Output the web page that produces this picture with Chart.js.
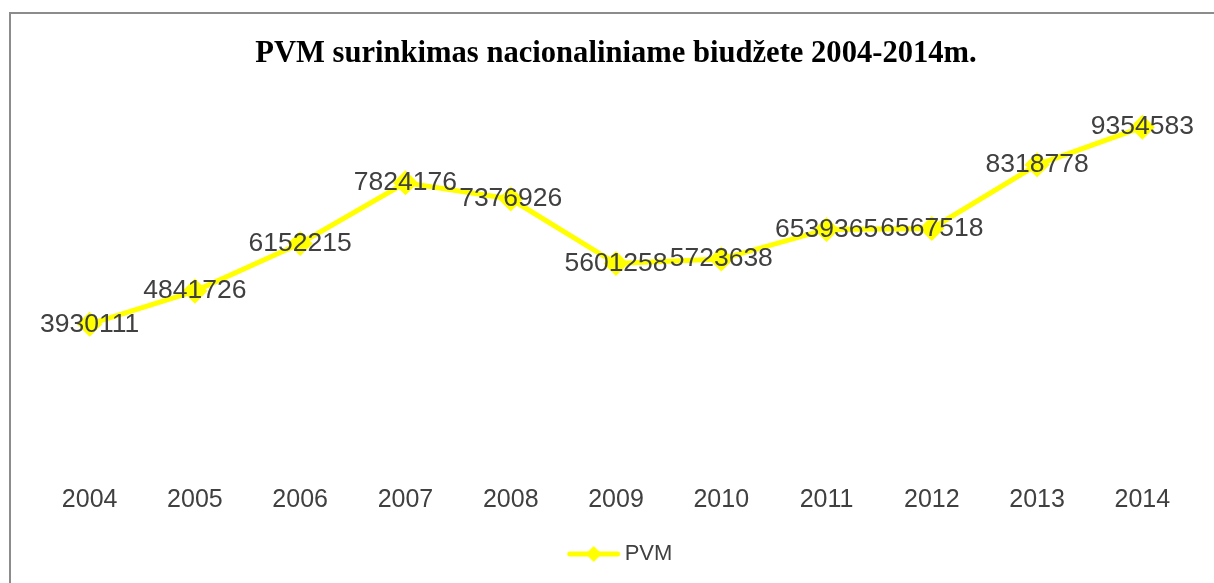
<!DOCTYPE html>
<html>
<head>
<meta charset="utf-8">
<script src="https://cdn.jsdelivr.net/npm/chart.js@4.4.1/dist/chart.umd.min.js"></script>
<style>
  body { margin: 0; background: #fff; }
  #wrap { position: relative; width: 1214px; height: 583px; }
  #frame { position: absolute; left: 9px; top: 12px; width: 1220px; height: 590px;
           border: 2px solid #8c8c8c; pointer-events: none; }
</style>
</head>
<body>
<div id="wrap">
  <canvas id="chart" width="1214" height="583"></canvas>
  <div id="frame"></div>
</div>
<script>
const years = ['2004', '2005', '2006', '2007', '2008', '2009', '2010', '2011', '2012', '2013', '2014'];
const pvm = [3930111, 4841726, 6152215, 7824176, 7376926, 5601258, 5723638, 6539365, 6567518, 8318778, 9354583];
const seriesName = 'PVM';
const chartTitle = 'PVM surinkimas nacionaliniame biudžete 2004-2014m.';

const yellow = '#ffff00';
const textColor = '#404040';

// legend marker: line with a diamond in the middle (drawn a bit to the right, closer to the text)
const legendIcon = document.createElement('canvas');
legendIcon.width = 70;
legendIcon.height = 20;
const lctx = legendIcon.getContext('2d');
lctx.strokeStyle = yellow;
lctx.lineWidth = 5;
lctx.lineCap = 'round';
lctx.beginPath();
lctx.moveTo(18, 10);
lctx.lineTo(66, 10);
lctx.stroke();
lctx.fillStyle = yellow;
lctx.beginPath();
lctx.moveTo(42, 2);
lctx.lineTo(50, 10);
lctx.lineTo(42, 18);
lctx.lineTo(34, 10);
lctx.closePath();
lctx.fill();

const valueLabels = {
    id: 'valueLabels',
    afterDatasetsDraw(chart) {
        const ctx = chart.ctx;
        const meta = chart.getDatasetMeta(0);
        ctx.save();
        ctx.font = '26.5px "Liberation Sans"';
        ctx.fillStyle = textColor;
        ctx.textAlign = 'center';
        ctx.textBaseline = 'middle';
        meta.data.forEach((pt, i) => {
            ctx.fillText(String(pvm[i]), pt.x, pt.y);
        });
        ctx.restore();
    }
};

new Chart(document.getElementById('chart').getContext('2d'), {
    type: 'line',
    data: {
        labels: years,
        datasets: [{
            label: seriesName,
            data: pvm,
            borderColor: yellow,
            backgroundColor: yellow,
            borderWidth: 5,
            pointStyle: 'rectRot',
            pointRadius: 9,
            pointBackgroundColor: yellow,
            pointBorderColor: yellow,
            tension: 0
        }]
    },
    options: {
        responsive: false,
        animation: false,
        layout: { padding: { left: 37, right: 19, top: 0, bottom: 8 } },
        plugins: {
            title: {
                display: true,
                text: chartTitle,
                color: '#000',
                font: { family: '"Liberation Serif"', size: 30.6, weight: 'bold' },
                padding: { top: 36, bottom: 31 }
            },
            legend: {
                position: 'bottom',
                labels: {
                    usePointStyle: true,
                    pointStyle: legendIcon,
                    pointStyleWidth: 54,
                    color: textColor,
                    font: { family: '"Liberation Sans"', size: 22 },
                    generateLabels: () => [{
                        text: seriesName,
                        pointStyle: legendIcon,
                        fontColor: textColor,
                        lineWidth: 0,
                        datasetIndex: 0
                    }]
                }
            },
            tooltip: { enabled: false }
        },
        scales: {
            x: {
                offset: true,
                grid: { display: false, drawTicks: false },
                border: { display: false },
                ticks: { color: textColor, padding: 18, font: { family: '"Liberation Sans"', size: 25 } }
            },
            y: {
                display: false,
                min: 0,
                max: 10000000
            }
        }
    },
    plugins: [valueLabels]
});
</script>
</body>
</html>
